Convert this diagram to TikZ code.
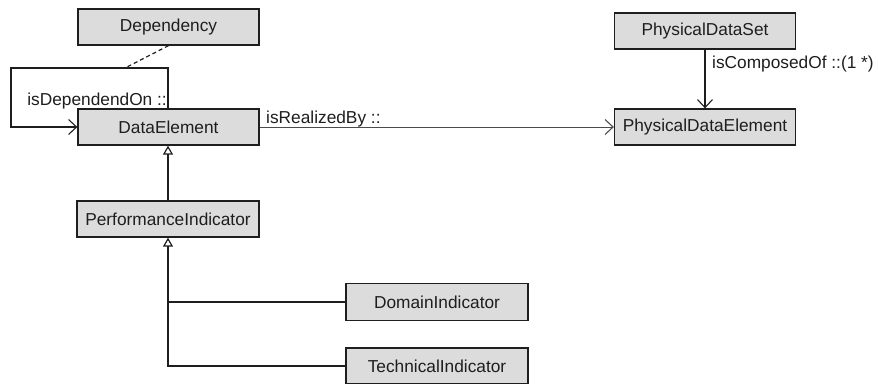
\documentclass[tikz,border=0pt]{standalone}
\usepackage{fontspec}
\setmainfont{Liberation Sans}
\usetikzlibrary{arrows.meta}
\definecolor{boxfill}{HTML}{DCDCDC}
\definecolor{ink}{HTML}{1E1E1E}
\begin{document}
\begin{tikzpicture}[x=1pt,y=-1pt,
  every node/.style={font=\fontsize{17.3}{20}\selectfont, text=ink},
  cls/.style={draw=ink, line width=1.3pt, fill=boxfill, inner sep=0pt, minimum height=36pt},
  lbl/.style={inner sep=0pt},
  assoc/.style={draw=ink, line width=1.1pt, -{Straight Barb[length=8pt,width=15pt,line width=1.1pt]}},
  gen/.style={draw=ink, line width=1.3pt, -{Triangle[open,length=9pt,width=10pt,line width=1.2pt]}},
  plain/.style={draw=ink, line width=1.3pt}]
\useasboundingbox (0,0) rectangle (878,383);
\clip (0,0) rectangle (878,383);

% classes
\node[cls, minimum width=181pt] (dep) at (168.5,27) {Dependency};
\node[cls, minimum width=181pt] (de) at (168.5,127) {DataElement};
\node[cls, minimum width=181pt] (pds) at (705,31) {PhysicalDataSet};
\node[cls, minimum width=181pt] (pde) at (705,127) {PhysicalDataElement};
\node[cls, minimum width=182pt] (pi) at (168,219) {PerformanceIndicator};
\node[cls, minimum width=182pt, minimum height=37pt] (dom) at (437,302) {DomainIndicator};
\node[cls, minimum width=182pt] (tech) at (437,366) {TechnicalIndicator};

% self association of DataElement
\coordinate (loopTR) at (168,68);
\coordinate (loopTL) at (11,68);
\coordinate (loopBL) at (11,127);
\draw[assoc] (de.north -| loopTR) -- (loopTR) -- (loopTL) -- (loopBL) -- (de.west);
\node[lbl, anchor=base east] (dlbl) at (167,105) {isDependendOn ::};

% association class link
\coordinate (dashEnd) at (125,68);
\draw[plain, line width=1.2pt, dash pattern=on 4pt off 3pt] (dep.south) -- (dashEnd);

% realization association
\draw[assoc, line width=0.9pt, draw=ink!80] (de.east) -- (pde.west);
\node[lbl, anchor=base west] (rlbl) at (266,123) {isRealizedBy ::};

% composition association
\draw[assoc] (pds.south) -- (pde.north);
\node[lbl, anchor=base west] (clbl) at (712,68) {isComposedOf ::(1 *)};

% generalizations
\draw[gen] (pi.north) -- (pi.north |- de.south);
\draw[gen] (tech.west) -| (pi.south);
\draw[plain] (dom.west) -- (dom.west -| pi.south);
\end{tikzpicture}
\end{document}
